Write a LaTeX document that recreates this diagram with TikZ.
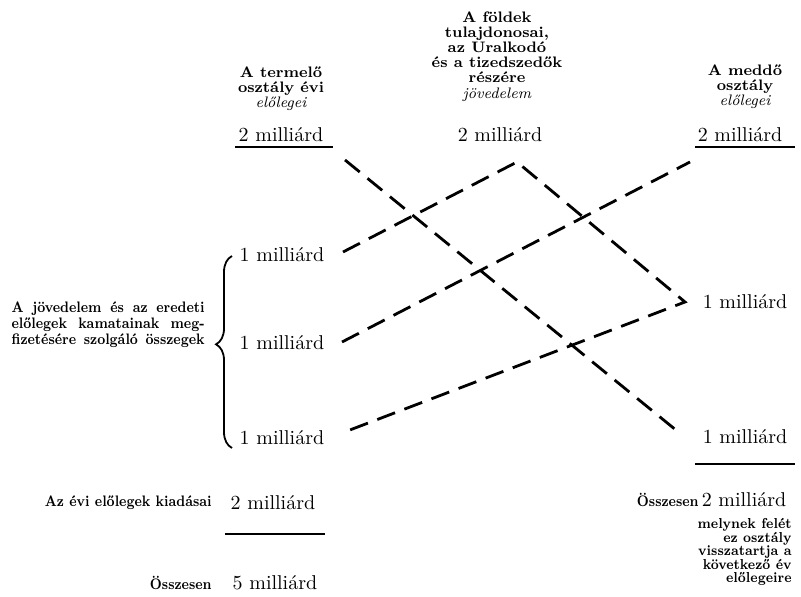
\documentclass[tikz,border=0pt]{standalone}
\usepackage{graphicx}
\usetikzlibrary{decorations.pathreplacing,calc}
\newcommand{\sqz}[1]{\scalebox{0.86}[1]{#1}}
\newcommand{\sqline}[1]{\scalebox{0.86}[1]{\makebox[112.2pt][s]{#1}}}
\begin{document}
\begin{tikzpicture}[x=0.5pt,y=-0.5pt,
  num/.style={inner sep=0pt,font=\fontsize{10}{12}\selectfont},
  head/.style={inner sep=0pt,align=center,font=\fontsize{7.6}{7.6}\selectfont\bfseries},
  lbl/.style={inner sep=0pt,font=\fontsize{7.6}{8}\selectfont\bfseries},
  flow/.style={line width=1.4pt,dash pattern=on 9.5pt off 5pt},
  rule/.style={line width=0.7pt}]
\useasboundingbox (0,0) rectangle (801,597);

% headers
\node[head,anchor=north] (H1) at (281,66) {A termelő\\osztály évi\\{\mdseries\itshape előlegei}};
\node[head,anchor=north] (H2) at (497,11) {A földek\\tulajdonosai,\\az Uralkodó\\és a tizedszedők\\részére\\{\mdseries\itshape jövedelem}};
\node[head,anchor=north] (H3) at (745,64) {A meddő\\osztály\\{\mdseries\itshape előlegei}};

% top amounts
\node[num] (T1) at (281,135) {2 milliárd};
\node[num] (T2) at (500,135) {2 milliárd};
\node[num] (T3) at (740,135) {2 milliárd};
\draw[rule] (235,147) -- (333,147);
\draw[rule] (695,147) -- (795,147);

% left column
\node[num] (L1) at (282,255) {1 milliárd};
\node[num] (L2) at (282,343) {1 milliárd};
\node[num] (L3) at (282,438) {1 milliárd};

% right column
\node[num] (R1) at (745,302) {1 milliárd};
\node[num] (R2) at (745,437) {1 milliárd};

% brace and its label
\draw[line width=0.9pt,decorate,decoration={brace,amplitude=8pt,aspect=0.54}] (232,448) -- (232,256);
\node[lbl,anchor=east,align=right] (LB) at (205,325) {%
\sqline{A jövedelem és az eredeti}\\
\sqline{előlegek kamatainak meg-}\\
\sqline{fizetésére szolgáló összegek}};

% dashed flows
\coordinate (a1) at (345,160);
\coordinate (a2) at (682,435);
\coordinate (b1) at (343,252);
\coordinate (apex) at (517,162);
\coordinate (b3) at (685,302);
\coordinate (b4) at (342,433);
\coordinate (c1) at (342,342);
\coordinate (c2) at (690,162);
\draw[flow] (a1) -- (a2);
\draw[flow] (b1) -- (apex) -- (b3) -- (b4);
\draw[flow] (c1) -- (c2);

% bottom left sums
\node[num] (S1) at (273,503) {2 milliárd};
\node[lbl,anchor=east] (S1l) at (212,503) {\sqz{Az évi előlegek kiadásai}};
\draw[rule] (225,534) -- (325,534);
\node[num] (S2) at (275,583) {5 milliárd};
\node[lbl,anchor=east] (S2l) at (212,583) {\sqz{Összesen}};

% bottom right sums
\draw[rule] (695,464) -- (795,464);
\node[num] (S3) at (744,500) {2 milliárd};
\node[lbl,anchor=east] (S3l) at (699,500) {\sqz{Összesen}};
\node[lbl,anchor=north east,align=right,font=\fontsize{7.2}{6.8}\selectfont\bfseries] (S3n) at (792,518) {\sqz{melynek felét}\\\sqz{ez osztály}\\\sqz{visszatartja a}\\\sqz{következő év}\\\sqz{előlegeire}};
\end{tikzpicture}
\end{document}
